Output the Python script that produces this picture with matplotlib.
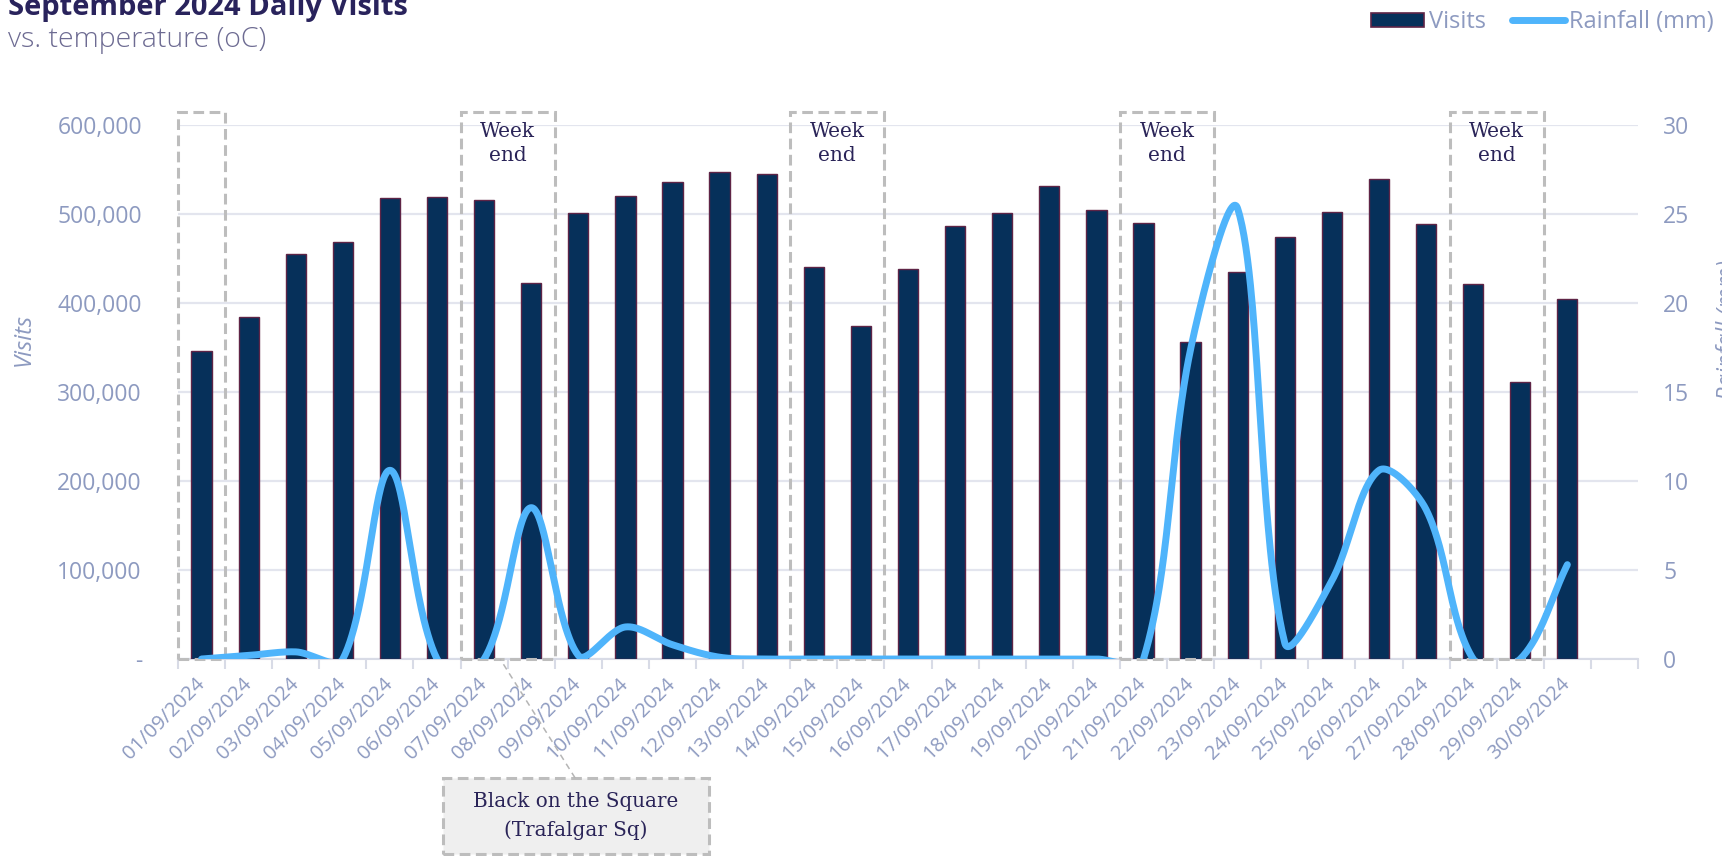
import numpy as np
import matplotlib
matplotlib.use("Agg")
import matplotlib.pyplot as plt
from matplotlib.patches import Rectangle, Patch
from matplotlib.lines import Line2D
from matplotlib.ticker import FuncFormatter, FixedLocator

# ---- data -------------------------------------------------------------
dates = ["01/09/2024", "02/09/2024", "03/09/2024", "04/09/2024", "05/09/2024",
         "06/09/2024", "07/09/2024", "08/09/2024", "09/09/2024", "10/09/2024",
         "11/09/2024", "12/09/2024", "13/09/2024", "14/09/2024", "15/09/2024",
         "16/09/2024", "17/09/2024", "18/09/2024", "19/09/2024", "20/09/2024",
         "21/09/2024", "22/09/2024", "23/09/2024", "24/09/2024", "25/09/2024",
         "26/09/2024", "27/09/2024", "28/09/2024", "29/09/2024", "30/09/2024"]

visits = [346000, 384000, 455500, 469000, 518000, 519000, 516000, 423000,
          501500, 520000, 536000, 547500, 544500, 441000, 374000, 438500,
          486000, 500700, 532000, 505000, 490000, 356000, 435000, 474000,
          502000, 539000, 489000, 421000, 311500, 405000]

rainfall_mm = [0.0, 0.2, 0.4, 0.0, 10.6, 0.0, 0.0, 8.5, 0.2, 1.8,
               0.8, 0.1, 0.0, 0.0, 0.0, 0.0, 0.0, 0.0, 0.0, 0.0,
               0.0, 17.4, 25.3, 0.9, 4.4, 10.6, 8.4, 0.0, 0.0, 5.3]

# weekend groups (day of month)
weekends = [[1], [7, 8], [14, 15], [21, 22], [28, 29]]
weekend_label = "Week\nend"

event_label = "Black on the Square\n(Trafalgar Sq)"
event_day = 7.84

# ---- styling ----------------------------------------------------------
BAR_FACE = "#06305a"
BAR_EDGE = "#5e2446"
LINE_COL = "#4fb4fb"
TICK_COL = "#8d9ac0"
GRID_COL = "#e3e5ee"
TITLE_COL = "#29235c"
SUB_COL = "#6d6b92"
BOX_COL = "#bdbdbd"
SERIF_COL = "#2a2458"

plt.rcParams["font.family"] = ["Open Sans", "DejaVu Sans"]


def smooth_curve(y, sx=47.1, sy=17.8, samples=60):
    """Bezier smoothing through every point, with handle lengths scaled by
    the neighbouring chord lengths (computed in display-like units)."""
    p = np.column_stack([np.arange(len(y)) * sx, np.asarray(y, float) * sy])
    n = len(p)
    t = np.linspace(0, 1, samples, endpoint=False)[:, None]
    out = []
    for i in range(n - 1):
        p0 = p[i - 1] if i > 0 else p[i]
        p1, p2 = p[i], p[i + 1]
        p3 = p[i + 2] if i + 2 < n else p[i + 1]
        d01 = np.linalg.norm(p1 - p0)
        d12 = np.linalg.norm(p2 - p1)
        d23 = np.linalg.norm(p3 - p2)
        f1 = 2 * d12 / (d01 + d12) if d01 + d12 > 0 else 1.0
        f2 = 2 * d12 / (d12 + d23) if d12 + d23 > 0 else 1.0
        c1 = p1 + (p2 - p0) / 6.0 * f1
        c2 = p2 - (p3 - p1) / 6.0 * f2
        seg = ((1 - t) ** 3) * p1 + 3 * ((1 - t) ** 2) * t * c1 \
            + 3 * (1 - t) * t ** 2 * c2 + t ** 3 * p2
        out.append(seg)
    out.append(p[-1][None, :])
    pts = np.vstack(out)
    return pts[:, 0] / sx, pts[:, 1] / sy


fig = plt.figure(figsize=(17.22, 8.56), dpi=100)
ax = fig.add_axes([178 / 1722, 1 - 659 / 856, 1460 / 1722, 534 / 856])
ax2 = ax.twinx()

n_slots = len(dates) + 1  # trailing empty category
x = np.arange(len(dates))

ax.bar(x, visits, width=0.43, color=BAR_FACE, edgecolor=BAR_EDGE,
       linewidth=1.0, zorder=3)

ax.set_xlim(-0.5, n_slots - 0.5)
ax.set_ylim(0, 600000)
ax.yaxis.set_major_locator(FixedLocator(np.arange(0, 600001, 100000)))
ax.yaxis.set_major_formatter(FuncFormatter(lambda v, p: "-" if v == 0 else f"{v:,.0f}"))
ax.grid(axis="y", color=GRID_COL, linewidth=1.6, zorder=0)
ax.set_axisbelow(True)

ax.set_xticks(list(x) + [len(dates)])
ax.set_xticklabels(dates + [""], rotation=45, ha="right", va="center",
                   rotation_mode="anchor", fontsize=14.5, color=TICK_COL)
ax.set_xticks(np.arange(-0.5, n_slots), minor=True)
ax.tick_params(axis="x", which="major", length=0, pad=16)
ax.tick_params(axis="x", which="minor", length=7, width=1.5, color="#d8dbe6")
ax.tick_params(axis="y", length=0, labelsize=16.5, labelcolor=TICK_COL, pad=26)

for s in ["top", "left", "right"]:
    ax.spines[s].set_visible(False)
    ax2.spines[s].set_visible(False)
ax.spines["bottom"].set_color("#d8dbe6")
ax.spines["bottom"].set_linewidth(1.5)
ax2.spines["bottom"].set_visible(False)

# rainfall on the secondary axis
sx, sy = smooth_curve(rainfall_mm)
ax2.plot(sx, sy, color=LINE_COL, linewidth=5, solid_capstyle="round",
         solid_joinstyle="round", zorder=4)
ax2.set_ylim(0, 30)
ax2.set_yticks(np.arange(0, 31, 5))
ax2.tick_params(axis="y", length=0, labelsize=16.5, labelcolor=TICK_COL, pad=18)

# weekend boxes
for days in weekends:
    x0 = days[0] - 1 - 0.5
    x1 = days[-1] - 1 + 0.5
    ax.add_patch(Rectangle((x0, 0), x1 - x0, 615000, fill=False,
                           edgecolor=BOX_COL, linewidth=2.2,
                           linestyle=(0, (3.5, 1.8)), clip_on=False, zorder=5))
    if len(days) > 1:
        ax.text((x0 + x1) / 2, 603000, weekend_label, ha="center", va="top",
                fontsize=14.5, family="DejaVu Serif", color=SERIF_COL,
                linespacing=1.3, zorder=6)

# event call-out
bx0, by0, bw, bh = 443 / 1722, 2 / 856, 266 / 1722, 76 / 856
fig.patches.append(Rectangle((bx0, by0), bw, bh, transform=fig.transFigure,
                             facecolor="#efefef", edgecolor=BOX_COL,
                             linewidth=2.2, linestyle=(0, (3.5, 1.8))))
fig.text(bx0 + bw / 2, by0 + bh / 2, event_label, ha="center", va="center",
         fontsize=14.3, family="DejaVu Serif", color=SERIF_COL, linespacing=1.55)
tip = fig.transFigure.inverted().transform(ax.transData.transform((event_day - 1.5, 0)))
fig.add_artist(Line2D([bx0 + bw / 2 - 0.0005, tip[0]], [by0 + bh, tip[1]],
                      transform=fig.transFigure, color="#b5b5b5",
                      linewidth=1.1, linestyle=(0, (4, 3))))

# titles
fig.text(8 / 1722, 1 - 15 / 856, "September 2024 Daily Visits", ha="left",
         va="baseline", fontsize=21, fontweight="bold", color=TITLE_COL)
fig.text(8 / 1722, 1 - 47 / 856, "vs. temperature (oC)", ha="left",
         va="baseline", fontsize=20.5, fontweight="light", color=SUB_COL)

# axis titles
fig.text(24 / 1722, 1 - 340 / 856, "Visits", rotation=90, ha="center",
         va="center", fontsize=17, style="italic", color=TICK_COL)
fig.text(1728 / 1722, 1 - 330 / 856, "Rainfall (mm)", rotation=90,
         ha="center", va="center", fontsize=17, style="italic", color=TICK_COL)

# legend
handles = [Patch(facecolor=BAR_FACE, edgecolor=BAR_EDGE, linewidth=1.2),
           Line2D([], [], color=LINE_COL, linewidth=5, solid_capstyle="round")]
leg = fig.legend(handles, ["Visits", "Rainfall (mm)"], loc="center right",
                 bbox_to_anchor=(1714 / 1722, 1 - 22 / 856), ncol=2,
                 frameon=False, fontsize=17, handlelength=2.25,
                 handleheight=0.55, handletextpad=0.2, columnspacing=1.1,
                 borderpad=0, borderaxespad=0)
for t in leg.get_texts():
    t.set_color(TICK_COL)

fig.savefig("out.png", dpi=100)
